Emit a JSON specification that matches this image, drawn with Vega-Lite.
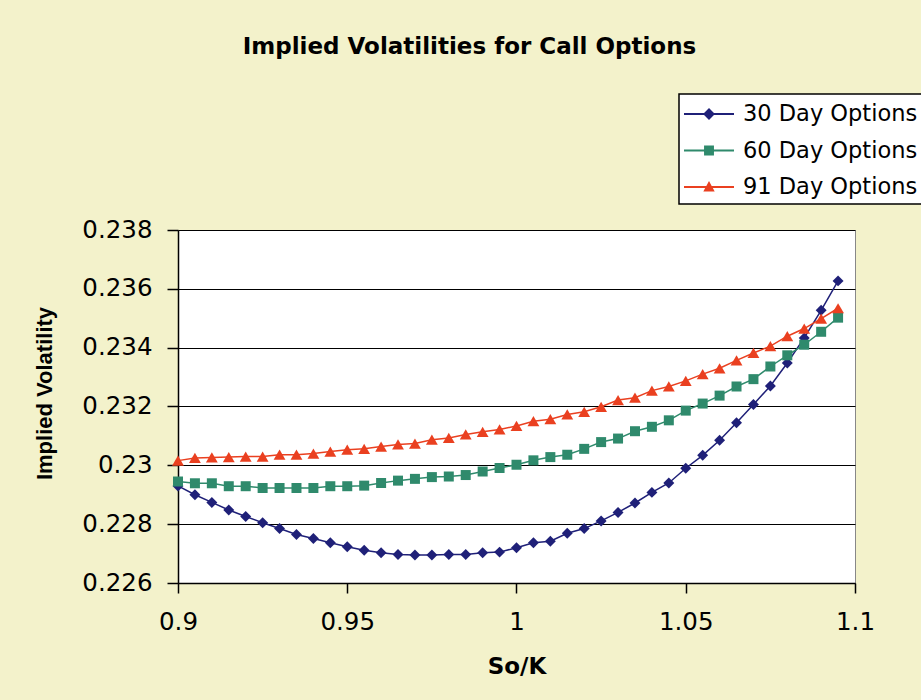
{
  "$schema": "https://vega.github.io/schema/vega-lite/v6.json",
  "width": 677,
  "height": 353,
  "autosize": {"type": "none"},
  "padding": {"left": 178, "top": 230, "right": 66, "bottom": 117},
  "background": "#f3f2cb",
  "title": {"text": "Implied Volatilities for Call Options", "font": "DejaVu Sans", "fontSize": 23, "fontWeight": "bold", "anchor": "middle", "frame": "group", "baseline": "alphabetic", "offset": 16, "dx": -47, "color": "black"},
  "config": {
    "view": {"fill": "white", "stroke": "#888888", "strokeWidth": 1},
    "axis": {"labelFont": "DejaVu Sans", "labelFontSize": 24.5, "labelColor": "black", "domainColor": "black", "domainWidth": 1.5, "tickColor": "black", "tickWidth": 1.5, "gridColor": "black", "gridWidth": 1.2, "gridOpacity": 1, "titleColor": "black", "labelOverlap": false, "labelFlush": false}
  },
  "data": {"values": [
    {"series": "30 Day Options", "SoK": 0.9, "vol": 0.2293},
    {"series": "30 Day Options", "SoK": 0.905, "vol": 0.229},
    {"series": "30 Day Options", "SoK": 0.91, "vol": 0.22874},
    {"series": "30 Day Options", "SoK": 0.915, "vol": 0.22848},
    {"series": "30 Day Options", "SoK": 0.92, "vol": 0.22826},
    {"series": "30 Day Options", "SoK": 0.925, "vol": 0.22805},
    {"series": "30 Day Options", "SoK": 0.93, "vol": 0.22785},
    {"series": "30 Day Options", "SoK": 0.935, "vol": 0.22765},
    {"series": "30 Day Options", "SoK": 0.94, "vol": 0.22751},
    {"series": "30 Day Options", "SoK": 0.945, "vol": 0.22737},
    {"series": "30 Day Options", "SoK": 0.95, "vol": 0.22723},
    {"series": "30 Day Options", "SoK": 0.955, "vol": 0.22711},
    {"series": "30 Day Options", "SoK": 0.96, "vol": 0.22703},
    {"series": "30 Day Options", "SoK": 0.965, "vol": 0.22697},
    {"series": "30 Day Options", "SoK": 0.97, "vol": 0.22695},
    {"series": "30 Day Options", "SoK": 0.975, "vol": 0.22695},
    {"series": "30 Day Options", "SoK": 0.98, "vol": 0.22697},
    {"series": "30 Day Options", "SoK": 0.985, "vol": 0.22697},
    {"series": "30 Day Options", "SoK": 0.99, "vol": 0.22703},
    {"series": "30 Day Options", "SoK": 0.995, "vol": 0.22705},
    {"series": "30 Day Options", "SoK": 1.0, "vol": 0.2272},
    {"series": "30 Day Options", "SoK": 1.005, "vol": 0.22737},
    {"series": "30 Day Options", "SoK": 1.01, "vol": 0.22742},
    {"series": "30 Day Options", "SoK": 1.015, "vol": 0.22769},
    {"series": "30 Day Options", "SoK": 1.02, "vol": 0.22785},
    {"series": "30 Day Options", "SoK": 1.025, "vol": 0.22811},
    {"series": "30 Day Options", "SoK": 1.03, "vol": 0.2284},
    {"series": "30 Day Options", "SoK": 1.035, "vol": 0.22872},
    {"series": "30 Day Options", "SoK": 1.04, "vol": 0.22908},
    {"series": "30 Day Options", "SoK": 1.045, "vol": 0.2294},
    {"series": "30 Day Options", "SoK": 1.05, "vol": 0.2299},
    {"series": "30 Day Options", "SoK": 1.055, "vol": 0.23034},
    {"series": "30 Day Options", "SoK": 1.06, "vol": 0.23085},
    {"series": "30 Day Options", "SoK": 1.065, "vol": 0.23145},
    {"series": "30 Day Options", "SoK": 1.07, "vol": 0.23207},
    {"series": "30 Day Options", "SoK": 1.075, "vol": 0.2327},
    {"series": "30 Day Options", "SoK": 1.08, "vol": 0.23348},
    {"series": "30 Day Options", "SoK": 1.085, "vol": 0.23433},
    {"series": "30 Day Options", "SoK": 1.09, "vol": 0.23527},
    {"series": "30 Day Options", "SoK": 1.095, "vol": 0.23627},
    {"series": "60 Day Options", "SoK": 0.9, "vol": 0.22945},
    {"series": "60 Day Options", "SoK": 0.905, "vol": 0.22939},
    {"series": "60 Day Options", "SoK": 0.91, "vol": 0.22939},
    {"series": "60 Day Options", "SoK": 0.915, "vol": 0.22929},
    {"series": "60 Day Options", "SoK": 0.92, "vol": 0.22929},
    {"series": "60 Day Options", "SoK": 0.925, "vol": 0.22923},
    {"series": "60 Day Options", "SoK": 0.93, "vol": 0.22923},
    {"series": "60 Day Options", "SoK": 0.935, "vol": 0.22923},
    {"series": "60 Day Options", "SoK": 0.94, "vol": 0.22923},
    {"series": "60 Day Options", "SoK": 0.945, "vol": 0.22929},
    {"series": "60 Day Options", "SoK": 0.95, "vol": 0.22929},
    {"series": "60 Day Options", "SoK": 0.955, "vol": 0.22931},
    {"series": "60 Day Options", "SoK": 0.96, "vol": 0.2294},
    {"series": "60 Day Options", "SoK": 0.965, "vol": 0.22948},
    {"series": "60 Day Options", "SoK": 0.97, "vol": 0.22954},
    {"series": "60 Day Options", "SoK": 0.975, "vol": 0.2296},
    {"series": "60 Day Options", "SoK": 0.98, "vol": 0.22962},
    {"series": "60 Day Options", "SoK": 0.985, "vol": 0.22967},
    {"series": "60 Day Options", "SoK": 0.99, "vol": 0.22979},
    {"series": "60 Day Options", "SoK": 0.995, "vol": 0.22991},
    {"series": "60 Day Options", "SoK": 1.0, "vol": 0.23002},
    {"series": "60 Day Options", "SoK": 1.005, "vol": 0.23017},
    {"series": "60 Day Options", "SoK": 1.01, "vol": 0.23028},
    {"series": "60 Day Options", "SoK": 1.015, "vol": 0.23036},
    {"series": "60 Day Options", "SoK": 1.02, "vol": 0.23056},
    {"series": "60 Day Options", "SoK": 1.025, "vol": 0.23079},
    {"series": "60 Day Options", "SoK": 1.03, "vol": 0.23091},
    {"series": "60 Day Options", "SoK": 1.035, "vol": 0.23116},
    {"series": "60 Day Options", "SoK": 1.04, "vol": 0.23131},
    {"series": "60 Day Options", "SoK": 1.045, "vol": 0.23153},
    {"series": "60 Day Options", "SoK": 1.05, "vol": 0.23186},
    {"series": "60 Day Options", "SoK": 1.055, "vol": 0.2321},
    {"series": "60 Day Options", "SoK": 1.06, "vol": 0.23237},
    {"series": "60 Day Options", "SoK": 1.065, "vol": 0.23268},
    {"series": "60 Day Options", "SoK": 1.07, "vol": 0.23293},
    {"series": "60 Day Options", "SoK": 1.075, "vol": 0.23336},
    {"series": "60 Day Options", "SoK": 1.08, "vol": 0.23374},
    {"series": "60 Day Options", "SoK": 1.085, "vol": 0.2341},
    {"series": "60 Day Options", "SoK": 1.09, "vol": 0.23454},
    {"series": "60 Day Options", "SoK": 1.095, "vol": 0.23502},
    {"series": "91 Day Options", "SoK": 0.9, "vol": 0.23016},
    {"series": "91 Day Options", "SoK": 0.905, "vol": 0.23025},
    {"series": "91 Day Options", "SoK": 0.91, "vol": 0.23027},
    {"series": "91 Day Options", "SoK": 0.915, "vol": 0.23028},
    {"series": "91 Day Options", "SoK": 0.92, "vol": 0.2303},
    {"series": "91 Day Options", "SoK": 0.925, "vol": 0.2303},
    {"series": "91 Day Options", "SoK": 0.93, "vol": 0.23036},
    {"series": "91 Day Options", "SoK": 0.935, "vol": 0.23036},
    {"series": "91 Day Options", "SoK": 0.94, "vol": 0.2304},
    {"series": "91 Day Options", "SoK": 0.945, "vol": 0.23047},
    {"series": "91 Day Options", "SoK": 0.95, "vol": 0.23053},
    {"series": "91 Day Options", "SoK": 0.955, "vol": 0.23056},
    {"series": "91 Day Options", "SoK": 0.96, "vol": 0.23064},
    {"series": "91 Day Options", "SoK": 0.965, "vol": 0.23071},
    {"series": "91 Day Options", "SoK": 0.97, "vol": 0.23074},
    {"series": "91 Day Options", "SoK": 0.975, "vol": 0.23087},
    {"series": "91 Day Options", "SoK": 0.98, "vol": 0.23093},
    {"series": "91 Day Options", "SoK": 0.985, "vol": 0.23105},
    {"series": "91 Day Options", "SoK": 0.99, "vol": 0.23114},
    {"series": "91 Day Options", "SoK": 0.995, "vol": 0.23122},
    {"series": "91 Day Options", "SoK": 1.0, "vol": 0.23134},
    {"series": "91 Day Options", "SoK": 1.005, "vol": 0.2315},
    {"series": "91 Day Options", "SoK": 1.01, "vol": 0.23157},
    {"series": "91 Day Options", "SoK": 1.015, "vol": 0.23173},
    {"series": "91 Day Options", "SoK": 1.02, "vol": 0.23182},
    {"series": "91 Day Options", "SoK": 1.025, "vol": 0.23199},
    {"series": "91 Day Options", "SoK": 1.03, "vol": 0.23222},
    {"series": "91 Day Options", "SoK": 1.035, "vol": 0.2323},
    {"series": "91 Day Options", "SoK": 1.04, "vol": 0.23254},
    {"series": "91 Day Options", "SoK": 1.045, "vol": 0.23268},
    {"series": "91 Day Options", "SoK": 1.05, "vol": 0.23287},
    {"series": "91 Day Options", "SoK": 1.055, "vol": 0.2331},
    {"series": "91 Day Options", "SoK": 1.06, "vol": 0.2333},
    {"series": "91 Day Options", "SoK": 1.065, "vol": 0.23357},
    {"series": "91 Day Options", "SoK": 1.07, "vol": 0.23382},
    {"series": "91 Day Options", "SoK": 1.075, "vol": 0.23405},
    {"series": "91 Day Options", "SoK": 1.08, "vol": 0.23439},
    {"series": "91 Day Options", "SoK": 1.085, "vol": 0.23465},
    {"series": "91 Day Options", "SoK": 1.09, "vol": 0.23499},
    {"series": "91 Day Options", "SoK": 1.095, "vol": 0.23534}
  ]},
  "encoding": {
    "x": {"field": "SoK", "type": "quantitative", "scale": {"domain": [0.9, 1.1], "nice": false, "zero": false},
      "axis": {"values": [0.9, 0.95, 1, 1.05, 1.1], "format": ".2~f", "grid": false, "tickSize": 10, "labelPadding": 17, "title": "So/K", "titleFont": "DejaVu Sans", "titleFontWeight": "bold", "titleFontSize": 23, "titlePadding": 22}},
    "y": {"field": "vol", "type": "quantitative", "scale": {"domain": [0.226, 0.238], "nice": false, "zero": false},
      "axis": {"values": [0.226, 0.228, 0.23, 0.232, 0.234, 0.236, 0.238], "format": ".3~f", "grid": true, "tickSize": 11, "labelPadding": 15, "title": "Implied Volatility", "titleFont": "Liberation Sans", "titleFontWeight": "bold", "titleFontSize": 22, "titleX": -122, "titleY": 163}},
    "color": {"field": "series", "type": "nominal",
      "scale": {"domain": ["30 Day Options", "60 Day Options", "91 Day Options"], "range": ["#1f2078", "#2f8a6c", "#ea4020"]},
      "legend": {"title": null, "orient": "none", "legendX": 501, "legendY": -136, "fillColor": "white", "strokeColor": "black", "padding": 5, "symbolSize": 900, "labelFont": "DejaVu Sans", "labelFontSize": 22.5, "labelColor": "black", "labelOffset": 29, "rowPadding": 9.5, "labelLimit": 300,
        "encode": {
          "legend": {"update": {"strokeWidth": {"value": 1.5}}},
          "symbols": {"update": {
            "shape": {"signal": "datum.value === '30 Day Options' ? 'M-1,-0.07L0.337,-0.07L0.667,-0.4L0.997,-0.07L2.333,-0.07L2.333,0.07L0.997,0.07L0.667,0.4L0.337,0.07L-1,0.07Z' : datum.value === '60 Day Options' ? 'M-1,-0.07L0.337,-0.07L0.337,-0.33L0.997,-0.33L0.997,-0.07L2.333,-0.07L2.333,0.07L0.997,0.07L0.997,0.33L0.337,0.33L0.337,0.07L-1,0.07Z' : 'M-1,-0.07L0.488,-0.07L0.667,-0.4L0.846,-0.07L2.333,-0.07L2.333,0.07L0.922,0.07L1.047,0.3L0.287,0.3L0.412,0.07L-1,0.07Z'"},
            "size": {"value": 900},
            "fill": {"signal": "scale('color', datum.value)"},
            "stroke": {"value": "transparent"},
            "strokeWidth": {"value": 0},
            "opacity": {"value": 1},
            "fillOpacity": {"value": 1}
          }}
        }}
    }
  },
  "layer": [
    {"mark": {"type": "line", "strokeWidth": 1.5}},
    {"mark": {"type": "point", "filled": true, "opacity": 1},
      "encoding": {
        "shape": {"field": "series", "type": "nominal", "scale": {"domain": ["91 Day Options", "60 Day Options", "30 Day Options"], "range": ["triangle-up", "square", "diamond"]}, "legend": null},
        "size": {"field": "series", "type": "ordinal", "scale": {"domain": ["60 Day Options", "30 Day Options", "91 Day Options"], "range": [100, 140, 170]}, "legend": null}
      }}
  ]
}
